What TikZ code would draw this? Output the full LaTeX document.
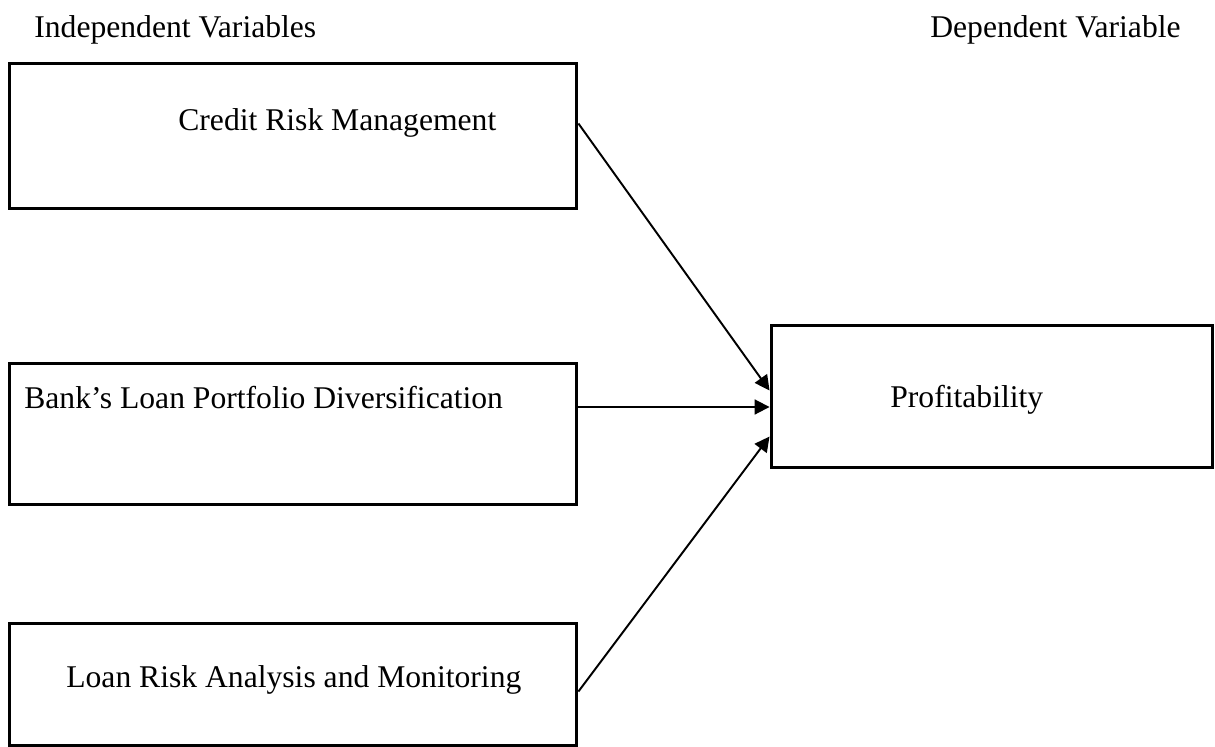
\documentclass[tikz,border=0pt]{standalone}
\usepackage{fontspec}
\setmainfont{Liberation Serif}
\usepackage{tikz}
\usetikzlibrary{arrows.meta, calc}

\tikzset{
	varbox/.style={draw, line width=1.7pt, inner sep=0pt},
	vartext/.style={font=\fontsize{18}{22}\selectfont, inner sep=0pt, anchor=base west},
	link/.style={line width=1.1pt, -{Triangle[length=8.5pt,width=8.5pt]}}
}

\begin{document}
\begin{tikzpicture}[x=0.02cm, y=-0.02cm]
	\useasboundingbox (0,0) rectangle (1215,747);
	\node[vartext] (indep) at (34,37) {Independent Variables};
	\node[vartext] (dep) at (930,37) {Dependent Variable};

	\node[varbox, minimum width=11.36cm, minimum height=2.92cm] (crmbox) at (293,136) {};
	\node[varbox, minimum width=11.36cm, minimum height=2.84cm] (bankbox) at (293,434) {};
	\node[varbox, minimum width=11.36cm, minimum height=2.46cm] (loanbox) at (293,684.5) {};
	\node[varbox, minimum width=8.84cm, minimum height=2.86cm] (profbox) at (992,396.5) {};

	\node[vartext] (crm) at (178,130) {Credit Risk Management};
	\node[vartext] (bank) at (24,408) {Bank’s Loan Portfolio Diversification};
	\node[vartext] (loan) at (66,687) {Loan Risk Analysis and Monitoring};
	\node[vartext] (prof) at (890,407) {Profitability};

	\draw[link] ($(crmbox.north east)+(0,62)$) -- ($(profbox.north west)+(0,67)$);
	\draw[link] (bankbox.east |- prof.base) -- (profbox.west |- prof.base);
	\draw[link] ($(loanbox.north east)+(0,70)$) -- ($(profbox.north west)+(0,113)$);
\end{tikzpicture}
\end{document}
